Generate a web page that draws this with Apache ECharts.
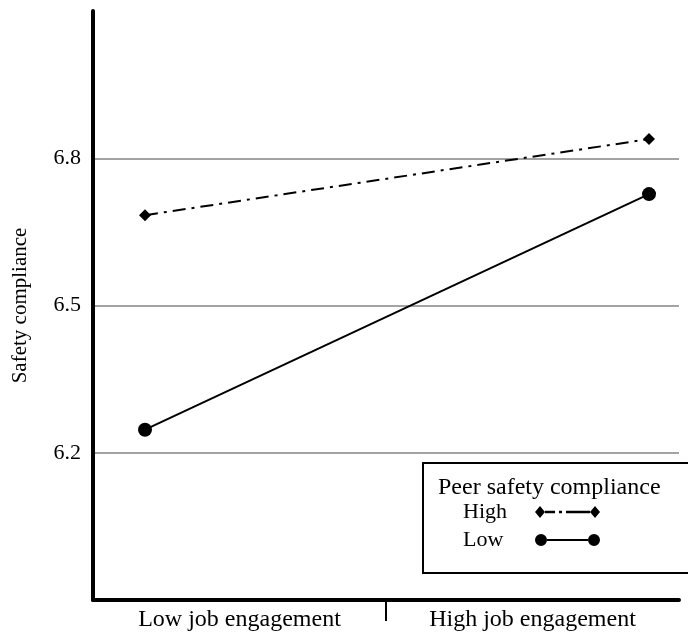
<!DOCTYPE html>
<html>
<head>
<meta charset="utf-8">
<script src="https://cdn.jsdelivr.net/npm/echarts@6/dist/echarts.min.js"></script>
<style>
  html, body { margin: 0; padding: 0; background: #fff; }
  #main { width: 688px; height: 636px; }
</style>
</head>
<body>
<div id="main"></div>
<script>
// job engagement levels on the x axis
const categories = ['Low job engagement', 'High job engagement']
// peer safety compliance groups
const seriesNames = ['High', 'Low']
const highValues = [6.684, 6.839]
const lowValues = [6.247, 6.727]
const yTicks = { min: 5.9, max: 7.1, interval: 0.3 }

const FONT = 'Liberation Serif'

// legend icons: diamond - dash-dot - diamond, and circle - line - circle
const highIcon = 'path://M0 6L5 1L10 6L5 11Z M10 5L20 5L20 7L10 7Z M24 5L27 5L27 7L24 7Z M31 5L55 5L55 7L31 7Z M55 6L60 1L65 6L60 11Z'
const lowIcon = 'path://M0 6A6 6 0 1 0 12 6A6 6 0 1 0 0 6Z M12 5L53 5L53 7L12 7Z M53 6A6 6 0 1 0 65 6A6 6 0 1 0 53 6Z'

function toPoints (values) {
  return values.map((v, i) => [i, v])
}

const chart = echarts.init(document.getElementById('main'), null, { renderer: 'canvas' })

chart.setOption({
  animation: false,
  backgroundColor: '#fff',
  textStyle: { fontFamily: FONT, color: '#000' },
  grid: { left: 93, right: 9, top: 11, bottom: 36, containLabel: false },
  xAxis: [
    {
      type: 'category',
      position: 'bottom',
      data: categories,
      boundaryGap: true,
      axisLine: { onZero: false, lineStyle: { color: '#000', width: 4 } },
      axisTick: { show: false },
      axisLabel: { color: '#000', fontFamily: FONT, fontSize: 24, margin: 8 },
      splitLine: { show: false },
    },
    {
      // only for the divider tick between the two groups
      type: 'category',
      position: 'bottom',
      data: ['a', 'b', 'c'],
      boundaryGap: false,
      axisLine: { show: false, onZero: false },
      axisLabel: { show: false },
      axisTick: {
        show: true,
        interval: (i) => i === 1,
        length: 21,
        lineStyle: { color: '#000', width: 2 },
      },
      splitLine: { show: false },
    },
    {
      type: 'value',
      position: 'bottom',
      min: -0.1032,
      max: 1.0595,
      show: false,
    },
  ],
  yAxis: {
    type: 'value',
    min: yTicks.min,
    max: yTicks.max,
    interval: yTicks.interval,
    name: 'Safety compliance',
    nameLocation: 'middle',
    nameGap: 62,
    nameTextStyle: { color: '#000', fontFamily: FONT, fontSize: 21 },
    axisLine: { show: true, onZero: false, lineStyle: { color: '#000', width: 4 } },
    axisTick: { show: false },
    axisLabel: {
      color: '#000',
      fontFamily: FONT,
      fontSize: 22,
      margin: 12,
      showMinLabel: false,
      showMaxLabel: false,
      formatter: v => v.toFixed(1),
    },
    splitLine: {
      show: true,
      showMinLine: false,
      showMaxLine: false,
      lineStyle: { color: '#a3a3a3', width: 2 },
    },
  },
  legend: {
    left: 463,
    top: 501,
    orient: 'vertical',
    align: 'right',
    padding: 0,
    itemGap: 6,
    itemWidth: 65,
    itemHeight: 12,
    symbolKeepAspect: false,
    selectedMode: false,
    formatter: '{a|{name}}',
    textStyle: {
      color: '#000',
      fontFamily: FONT,
      fontSize: 22,
      rich: { a: { width: 67, align: 'left', fontSize: 22, fontFamily: FONT, lineHeight: 22, color: '#000' } },
    },
    data: [
      { name: seriesNames[0], icon: highIcon },
      { name: seriesNames[1], icon: lowIcon },
    ],
  },
  graphic: [
    {
      type: 'rect',
      z: 1,
      shape: { x: 423, y: 463, width: 270, height: 110 },
      style: { fill: '#fff', stroke: '#000', lineWidth: 2 },
    },
    {
      type: 'text',
      z: 2,
      x: 438,
      y: 488,
      style: {
        text: 'Peer safety compliance',
        fill: '#000',
        font: '24px "Liberation Serif"',
        verticalAlign: 'middle',
      },
    },
  ],
  series: [
    {
      name: seriesNames[0],
      type: 'line',
      xAxisIndex: 2,
      data: toPoints(highValues),
      symbol: 'diamond',
      symbolSize: 12,
      itemStyle: { color: '#000' },
      lineStyle: { color: '#000', width: 2, type: [13, 6, 3, 6] },
      z: 3,
    },
    {
      name: seriesNames[1],
      type: 'line',
      xAxisIndex: 2,
      data: toPoints(lowValues),
      symbol: 'circle',
      symbolSize: 14,
      itemStyle: { color: '#000' },
      lineStyle: { color: '#000', width: 2 },
      z: 3,
    },
  ],
})
</script>
</body>
</html>
